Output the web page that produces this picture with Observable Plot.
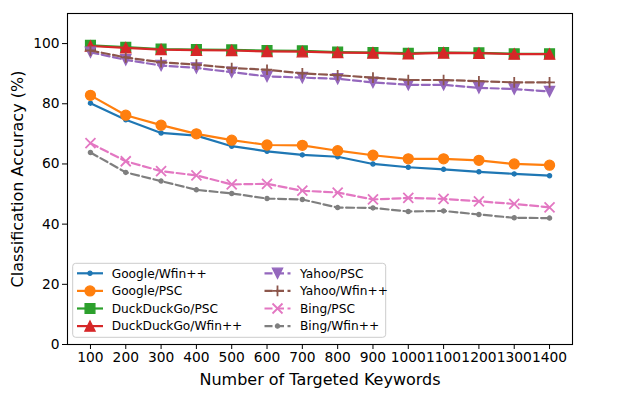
<!DOCTYPE html>
<html><head><meta charset="utf-8">
<script src="https://cdn.jsdelivr.net/npm/d3@7"></script>
<script src="https://cdn.jsdelivr.net/npm/@observablehq/plot@0.6"></script>
<style>
body{margin:0;background:#fff;}
#wrap{position:relative;width:623px;height:397px;font-family:"DejaVu Sans",sans-serif;}
</style></head><body><div id="wrap"></div>
<script>
// ---- data ----
const keywords = [100,200,300,400,500,600,700,800,900,1000,1100,1200,1300,1400];
const googleWfin = [80.2,74.7,70.3,69.4,65.9,64.2,63.0,62.4,60.0,58.9,58.2,57.4,56.7,56.1];
const googlePSC  = [82.8,76.2,72.9,70.0,67.9,66.3,66.2,64.4,62.9,61.7,61.7,61.2,60.0,59.6];
const ddgPSC     = [99.4,98.8,98.2,98.0,97.9,97.7,97.6,97.2,97.0,96.8,97.0,96.9,96.6,96.6];
const ddgWfin    = [99.2,98.6,98.0,97.8,97.7,97.4,97.3,97.0,96.9,96.6,96.9,96.8,96.5,96.5];
const yahooPSC   = [97.1,94.6,92.7,91.9,90.5,89.1,88.7,88.3,87.1,86.3,86.3,85.3,84.9,84.1];
const yahooWfin  = [97.7,95.4,93.8,93.0,91.9,91.3,90.1,89.5,88.7,87.9,87.9,87.5,87.1,87.1];
const bingPSC    = [66.9,60.9,57.6,56.2,53.2,53.4,51.1,50.5,48.2,48.7,48.4,47.6,46.7,45.6];
const bingWfin   = [63.8,57.2,54.3,51.4,50.2,48.5,48.2,45.5,45.4,44.2,44.4,43.2,42.1,42.0];

const seriesNames  = ["Google/Wfin++","Google/PSC","DuckDuckGo/PSC","DuckDuckGo/Wfin++","Yahoo/PSC","Yahoo/Wfin++","Bing/PSC","Bing/Wfin++"];
const seriesValues = [googleWfin,googlePSC,ddgPSC,ddgWfin,yahooPSC,yahooWfin,bingPSC,bingWfin];
const seriesColors = ["#1f77b4","#ff7f0e","#2ca02c","#d62728","#9467bd","#8c564b","#e377c2","#7f7f7f"];
const seriesMarkers = ["point","circle","square","triangleUp","triangleDown","plus","times","point"];
const seriesDashed = [false,false,false,false,true,true,true,true];
const yTicks = [0,20,40,60,80,100];
const xLabel = "Number of Targeted Keywords";
const yLabel = "Classification Accuracy (%)";

// ---- matplotlib-like symbols (size = pi*r^2, r = half marker size) ----
const half = s => Math.sqrt(s/Math.PI);
const symbols = {
  point: {draw(c,s){const r=half(s); c.moveTo(r,0); c.arc(0,0,r,0,2*Math.PI);}},
  circle: {draw(c,s){const r=half(s); c.moveTo(r,0); c.arc(0,0,r,0,2*Math.PI);}},
  square: {draw(c,s){const r=half(s); c.rect(-r,-r,2*r,2*r);}},
  triangleUp: {draw(c,s){const r=half(s); c.moveTo(0,-r); c.lineTo(r,r); c.lineTo(-r,r); c.closePath();}},
  triangleDown: {draw(c,s){const r=half(s); c.moveTo(0,r); c.lineTo(r,-r); c.lineTo(-r,-r); c.closePath();}},
  plus: {draw(c,s){const r=half(s); c.moveTo(-r,0); c.lineTo(r,0); c.moveTo(0,-r); c.lineTo(0,r);}},
  times: {draw(c,s){const r=half(s); c.moveTo(-r,-r); c.lineTo(r,r); c.moveTo(-r,r); c.lineTo(r,-r);}}
};
const markerR = {point:2.1, circle:5.0, square:4.9, triangleUp:5.1, triangleDown:5.1, plus:5.3, times:5.0};
const isStrokeSym = m => m === "plus" || m === "times";
const LW = 2.2, DASH = "8,3.5";
const TICK_FS = 13.8;

// ---- build rows ----
const rows = [];
seriesNames.forEach((name,i)=>{
  seriesValues[i].forEach((v,j)=>rows.push({series:name, x:keywords[j], y:v}));
});

const marks = [];
seriesNames.forEach((name,i)=>{
  const d = rows.filter(r=>r.series===name);
  const m = seriesMarkers[i];
  marks.push(Plot.line(d,{x:"x",y:"y",stroke:seriesColors[i],strokeWidth:LW,
    strokeDasharray: seriesDashed[i]?DASH:undefined, strokeLinejoin:"round"}));
  marks.push(Plot.dot(d,{x:"x",y:"y",symbol:symbols[m],r:markerR[m],
    fill: isStrokeSym(m)?"none":seriesColors[i], stroke:seriesColors[i],
    strokeWidth: isStrokeSym(m)?1.8:1.3}));
});

const chart = Plot.plot({
  width:623, height:397,
  marginLeft:67, marginRight:51, marginTop:13, marginBottom:53,
  x:{domain:[35,1465]},
  y:{domain:[0,110]},
  style:{fontFamily:"DejaVu Sans", fontSize:TICK_FS+"px", color:"black", background:"white", overflow:"visible"},
  marks:[
    ...marks,
    Plot.axisX({ticks:keywords, tickFormat:d=>String(d), tickSize:5, tickPadding:3, fontSize:TICK_FS, label:null}),
    Plot.axisY({ticks:yTicks, tickFormat:d=>String(d), tickSize:5, tickPadding:3, fontSize:TICK_FS, label:null}),
    Plot.frame({stroke:"black", strokeWidth:1.1}),
    Plot.text([xLabel],{text:d=>d, frameAnchor:"bottom", dy:35, lineAnchor:"middle", textAnchor:"middle", fontSize:16, fill:"black"}),
    Plot.text([yLabel],{text:d=>d, frameAnchor:"left", dx:-50, rotate:-90, textAnchor:"middle", lineAnchor:"middle", fontSize:16, fill:"black"})
  ]
});
const wrap = document.getElementById("wrap");
wrap.appendChild(chart);

// ---- legend overlay ----
const lg = d3.select(wrap).append("svg")
  .attr("width",623).attr("height",397)
  .style("position","absolute").style("left","0px").style("top","0px")
  .style("font-family","DejaVu Sans").style("font-size","12.2px");
const box = {x:72.7, y:263.3, w:313, h:74};
lg.append("rect").attr("x",box.x).attr("y",box.y).attr("width",box.w).attr("height",box.h)
  .attr("rx",3).attr("fill","rgba(255,255,255,0.8)").attr("stroke","#cccccc").attr("stroke-width",1);
const rowY = [273.3, 290.9, 308.5, 326.1];
const colX = [{x0:77, x1:103, tx:111.7},{x0:264.5, x1:290.5, tx:300}];
seriesNames.forEach((name,i)=>{
  const col = colX[Math.floor(i/4)], y = rowY[i%4], m = seriesMarkers[i];
  const g = lg.append("g");
  g.append("line").attr("x1",col.x0).attr("x2",col.x1).attr("y1",y).attr("y2",y)
    .attr("stroke",seriesColors[i]).attr("stroke-width",LW)
    .attr("stroke-dasharray", seriesDashed[i]?DASH:null);
  const r = markerR[m];
  g.append("path").attr("transform",`translate(${(col.x0+col.x1)/2},${y})`)
    .attr("d", d3.symbol().type(symbols[m]).size(Math.PI*r*r)())
    .attr("fill", isStrokeSym(m)?"none":seriesColors[i]).attr("stroke",seriesColors[i])
    .attr("stroke-width", isStrokeSym(m)?1.8:1.3);
  g.append("text").attr("x",col.tx).attr("y",y).attr("dy","0.36em").attr("fill","black").text(name);
});
</script></body></html>
